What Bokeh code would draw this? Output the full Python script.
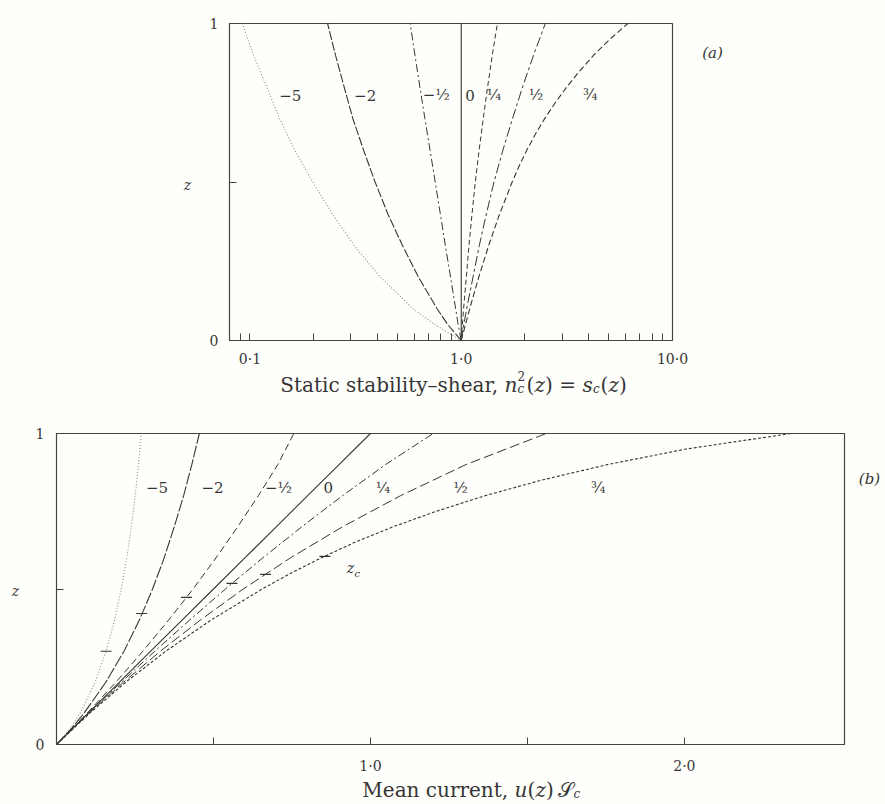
from bokeh.plotting import figure
from bokeh.models import FixedTicker, CustomJSTickFormatter, Label
from bokeh.embed import file_html
from bokeh.resources import INLINE

# ---------------- data ----------------
z_grid = [0.0, 0.05, 0.1, 0.2, 0.3, 0.4, 0.5, 0.6, 0.7, 0.8, 0.9, 1.0]
z_fine = [0.0, 0.1, 0.2, 0.3, 0.4, 0.5, 0.55, 0.6, 0.65, 0.7, 0.75, 0.8, 0.85, 0.9, 0.95, 1.0]
params = ["−5", "−2", "−½", "0", "¼", "½", "¾"]

# (a) static stability-shear s_c(z)
s_m5 = [1.0, 0.751, 0.592, 0.414, 0.311, 0.245, 0.198, 0.163, 0.138, 0.120, 0.104, 0.092]
s_m2 = [1.0, 0.864, 0.769, 0.627, 0.527, 0.449, 0.391, 0.345, 0.307, 0.279, 0.254, 0.233]
s_mh = [1.0, 0.967, 0.941, 0.890, 0.841, 0.796, 0.753, 0.712, 0.673, 0.637, 0.604, 0.573]
s_00 = [1.0, 1.0, 1.0, 1.0, 1.0, 1.0, 1.0, 1.0, 1.0, 1.0, 1.0, 1.0]
s_q1 = [1.0, 1.012, 1.026, 1.057, 1.088, 1.125, 1.166, 1.215, 1.271, 1.333, 1.403, 1.483]
s_h1 = [1.0, 1.028, 1.061, 1.137, 1.218, 1.316, 1.429, 1.574, 1.749, 1.952, 2.199, 2.500]
s_q3 = [1.0, 1.096, 1.211, 1.349, 1.521, 1.742, 1.879, 2.042, 2.239, 2.483, 2.786, 3.162,
        3.631, 4.236, 5.047, 6.152]                       # on z_fine

# (b) mean current u(z)
u_m5 = [0.0, 0.043, 0.075, 0.123, 0.158, 0.185, 0.206, 0.224, 0.238, 0.251, 0.261, 0.270]
u_m2 = [0.0, 0.047, 0.087, 0.157, 0.215, 0.264, 0.306, 0.343, 0.375, 0.405, 0.431, 0.455]
u_mh = [0.0, 0.049, 0.097, 0.189, 0.275, 0.357, 0.435, 0.508, 0.577, 0.643, 0.705, 0.756]
u_00 = [0.0, 0.05, 0.1, 0.2, 0.3, 0.4, 0.5, 0.6, 0.7, 0.8, 0.9, 1.0]
u_q1 = [0.0, 0.050, 0.101, 0.206, 0.313, 0.424, 0.538, 0.657, 0.781, 0.911, 1.048, 1.200]
u_h1 = [0.0, 0.051, 0.103, 0.213, 0.331, 0.458, 0.595, 0.745, 0.911, 1.096, 1.304, 1.560]
u_q3 = [0.0, 0.105, 0.220, 0.348, 0.492, 0.655, 0.745, 0.843, 0.950, 1.072, 1.210, 1.365,
        1.545, 1.755, 2.005, 2.340]                       # on z_fine

# critical levels z_c marked on the mean-current curves (-5, -2, -1/2, 1/4, 1/2, 3/4)
zc_u = [0.158, 0.271, 0.414, 0.559, 0.666, 0.855]
zc_z = [0.30, 0.421, 0.473, 0.518, 0.547, 0.605]

# label positions of the curve parameters
lab_a_x = [0.155, 0.351, 0.762, 1.10, 1.43, 2.26, 4.08]
lab_a_z = 0.773
lab_b_x = [0.32, 0.497, 0.707, 0.866, 1.04, 1.287, 1.726]
lab_b_z = 0.826

FONT = "DejaVu Serif"
INK = "#353535"
LIGHT = "#8c8c8c"
PAPER = "#fefefa"

styles_a = [(LIGHT, "1 2", 1.1), (INK, "9 2", 1.1), (INK, "8 3 2 3", 1.0), (INK, "solid", 1.1),
            (INK, "5 3", 1.0), (INK, "10 3 3 3", 1.0), (INK, "6 3", 1.1)]
styles_b = [(LIGHT, "1 2", 1.1), (INK, "12 2", 1.1), (INK, "7 4", 1.0), (INK, "solid", 1.1),
            (INK, "8 3 2 3", 1.0), (INK, "10 4", 1.0), (INK, "3 2", 1.1)]

PAGE_W, PAGE_H = 885, 804
ABS = {"position": "absolute", "left": "0px", "top": "0px"}


def style_axes(p):
    for ax in (p.xaxis[0], p.yaxis[0]):
        ax.axis_line_color = "#444444"
        ax.major_tick_line_color = "#444444"
        ax.minor_tick_line_color = "#444444"
        ax.major_tick_in = 7
        ax.major_tick_out = 0
        ax.minor_tick_in = 7
        ax.minor_tick_out = 0
        ax.major_label_text_font = FONT
        ax.major_label_text_font_size = "14px"
        ax.major_label_text_color = INK
    p.xgrid.visible = False
    p.ygrid.visible = False
    p.outline_line_color = "#444444"
    p.outline_line_width = 1.2
    p.background_fill_alpha = 0
    p.border_fill_alpha = 0


def lab(p, x, y, text, size="15px", style="normal", align="center", base="middle", xo=0, yo=0):
    p.add_layout(Label(x=x, y=y, text=text, text_font=FONT, text_font_size=size,
                       text_font_style=style, text_color=INK, text_align=align,
                       text_baseline=base, x_offset=xo, y_offset=yo))


# ---------------- (a) ----------------
A_L, A_T, A_W, A_H = 229, 23, 443, 317
pa = figure(x_axis_type="log", x_range=(0.08, 10.0), y_range=(0.0, 1.0),
            frame_width=A_W, frame_height=A_H,
            min_border_left=A_L, min_border_right=PAGE_W - A_L - A_W,
            min_border_top=A_T, min_border_bottom=PAGE_H - A_T - A_H,
            output_backend="svg", toolbar_location=None)
style_axes(pa)
pa.xaxis.ticker = FixedTicker(ticks=[0.1, 1.0, 10.0],
                              minor_ticks=[0.09, 0.2, 0.3, 0.4, 0.5, 0.6, 0.7, 0.8, 0.9,
                                           2, 3, 4, 5, 6, 7, 8, 9])
pa.xaxis.formatter = CustomJSTickFormatter(code="""
if (Math.abs(tick-0.1) < 1e-6) return '0·1';
if (Math.abs(tick-1) < 1e-6) return '1·0';
if (Math.abs(tick-10) < 1e-6) return '10·0';
return '';""")
pa.xaxis.major_label_standoff = 10
pa.yaxis.ticker = FixedTicker(ticks=[0.0, 0.5, 1.0])
pa.yaxis.formatter = CustomJSTickFormatter(code="return tick==0 ? '0' : (tick==1 ? '1' : '');")
pa.yaxis.major_label_standoff = 11

series_a = [(z_grid, s_m5), (z_grid, s_m2), (z_grid, s_mh), (z_grid, s_00),
            (z_grid, s_q1), (z_grid, s_h1), (z_fine, s_q3)]
for (zz, s), (c, d, w) in zip(series_a, styles_a):
    pa.line(s, zz, line_color=c, line_dash=d, line_width=w)
for t, x in zip(params, lab_a_x):
    lab(pa, x, lab_a_z, t)
pa.styles = ABS

# ---------------- (b) ----------------
B_L, B_T, B_W, B_H = 56, 433, 788, 311
pb = figure(x_range=(0.0, 2.51), y_range=(0.0, 1.0),
            frame_width=B_W, frame_height=B_H,
            min_border_left=B_L, min_border_right=PAGE_W - B_L - B_W,
            min_border_top=B_T, min_border_bottom=PAGE_H - B_T - B_H,
            output_backend="svg", toolbar_location=None)
style_axes(pb)
pb.border_fill_color = PAPER
pb.border_fill_alpha = 1
pb.background_fill_color = PAPER
pb.background_fill_alpha = 1
pb.xaxis.ticker = FixedTicker(ticks=[0.5, 1.0, 1.5, 2.0])
pb.xaxis.formatter = CustomJSTickFormatter(code="return tick==1 ? '1·0' : (tick==2 ? '2·0' : '');")
pb.xaxis.major_label_standoff = 13
pb.yaxis.ticker = FixedTicker(ticks=[0.0, 0.5, 1.0])
pb.yaxis.formatter = CustomJSTickFormatter(code="return tick==0 ? '0' : (tick==1 ? '1' : '');")
pb.yaxis.major_label_standoff = 12

series_b = [(z_grid, u_m5), (z_grid, u_m2), (z_grid, u_mh), (z_grid, u_00),
            (z_grid, u_q1), (z_grid, u_h1), (z_fine, u_q3)]
for (zz, u), (c, d, w) in zip(series_b, styles_b):
    pb.line(u, zz, line_color=c, line_dash=d, line_width=w)
pb.scatter(zc_u, zc_z, marker="dash", size=11, line_color=INK, line_width=1.1)
for t, x in zip(params, lab_b_x):
    lab(pb, x, lab_b_z, t)
lab(pb, 0.936, 0.566, "z", size="14px", style="italic")
lab(pb, 0.936, 0.566, "c", size="10px", style="italic", xo=7, yo=-5)
pb.styles = ABS

# ---------------- page texts outside the two frames ----------------
pt = figure(x_range=(0, PAGE_W), y_range=(PAGE_H, 0), width=PAGE_W, height=PAGE_H,
            min_border=0, x_axis_location=None, y_axis_location=None,
            output_backend="svg", toolbar_location=None)
pt.xgrid.visible = False
pt.ygrid.visible = False
pt.outline_line_color = None
pt.background_fill_alpha = 0
pt.border_fill_alpha = 0
pt.styles = ABS

lab(pt, 187, 184, "z", size="14px", style="italic")
lab(pt, 15, 590, "z", size="14px", style="italic")
lab(pt, 712, 52, "(a)", size="15px", style="italic")
lab(pt, 869, 478, "(b)", size="15px", style="italic")

# title of (a)
ta_x, ta_y = 504, 384
lab(pt, ta_x, ta_y, "Static stability–shear, ", size="20px", align="right", base="alphabetic")
for txt, sz, st, xo, yo in [("n", "20px", "italic", 0, 0), ("2", "12px", "normal", 13, 9),
                            ("c", "12px", "italic", 13, -4), ("(", "20px", "normal", 22, 0),
                            ("z", "20px", "italic", 30, 0), (") = ", "20px", "normal", 40.5, 0),
                            ("s", "20px", "italic", 78, 0), ("c", "12px", "italic", 88.5, -4),
                            ("(", "20px", "normal", 96, 0), ("z", "20px", "italic", 104, 0),
                            (")", "20px", "normal", 114.5, 0)]:
    lab(pt, ta_x, ta_y, txt, size=sz, style=st, align="left", base="alphabetic", xo=xo, yo=yo)

# title of (b)
tb_x, tb_y = 514, 789
lab(pt, tb_x, tb_y, "Mean current, ", size="20px", align="right", base="alphabetic")
for txt, sz, st, xo, yo in [("u", "20px", "italic", 0, 0), ("(", "20px", "normal", 13, 0),
                            ("z", "20px", "italic", 21, 0), (")", "20px", "normal", 31.5, 0),
                            ("𝒮", "20px", "normal", 43, 0), ("c", "12px", "italic", 59, -4)]:
    lab(pt, tb_x, tb_y, txt, size=sz, style=st, align="left", base="alphabetic", xo=xo, yo=yo)

open("out.html", "w").write(file_html([pb, pa, pt], INLINE))
